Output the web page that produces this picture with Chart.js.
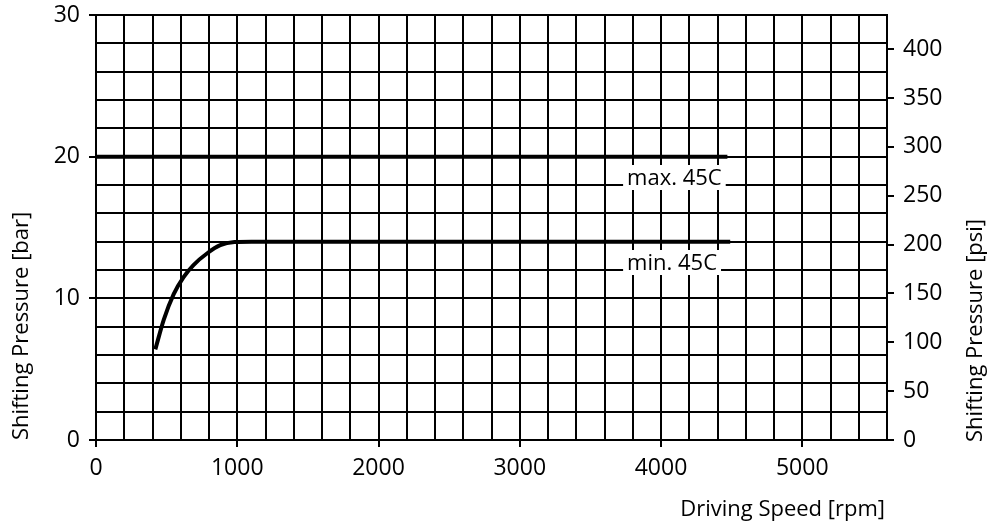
<!DOCTYPE html>
<html><head><meta charset="utf-8">
<script src="https://cdn.jsdelivr.net/npm/chart.js@4"></script>
<style>html,body{margin:0;padding:0;background:#fff;}</style>
</head><body>
<canvas id="c" width="993" height="528"></canvas>
<script>
// ---- data ----
const rpmMax = [0, 4470];
const barMax = [20, 20];
const rpmMin = [420, 480, 550, 620, 690, 790, 880, 980, 1100, 4490];
const barMin = [6.4, 8.5, 10.3, 11.5, 12.35, 13.2, 13.75, 13.97, 14, 14];
const curveLabels = ['max. 45C', 'min. 45C'];
const labelRpm = [3760, 3760];
const labelBar = [18, 12];
const rpmTickLabels = [0, 1000, 2000, 3000, 4000, 5000];
const barTickLabels = [0, 10, 20, 30];
const psiTicks = [0, 50, 100, 150, 200, 250, 300, 350, 400];
const xTitle = 'Driving Speed [rpm]';
const yTitle = 'Shifting Pressure [bar]';
const y2Title = 'Shifting Pressure [psi]';
const BAR_TO_PSI = 14.5;

const FAM = '"Open Sans", sans-serif';
const TICK_FONT = {family: FAM, size: 23};

const overlay = {
  id: 'overlay',
  afterDraw(chart) {
    const {ctx, chartArea, scales: {x, y}} = chart;
    ctx.save();
    ctx.font = '22px ' + FAM;
    ctx.textBaseline = 'alphabetic';
    ctx.textAlign = 'left';
    curveLabels.forEach((t, i) => {
      const px = x.getPixelForValue(labelRpm[i]);
      const py = y.getPixelForValue(labelBar[i]);
      const w = ctx.measureText(t).width;
      ctx.fillStyle = '#fff';
      ctx.fillRect(px - 4, py - 20, w + 8, 25);
      ctx.fillStyle = '#000';
      ctx.fillText(t, px, py);
    });
    // axis titles
    ctx.font = '22px ' + FAM;
    ctx.textBaseline = 'middle';
    ctx.save();
    ctx.translate(22, chartArea.bottom);
    ctx.rotate(-Math.PI / 2);
    ctx.textAlign = 'left';
    ctx.fillText(yTitle, 0, 0);
    ctx.restore();
    ctx.save();
    ctx.translate(976, chartArea.bottom + 2);
    ctx.rotate(-Math.PI / 2);
    ctx.textAlign = 'left';
    ctx.fillText(y2Title, 0, 0);
    ctx.restore();
    ctx.textAlign = 'right';
    ctx.textBaseline = 'alphabetic';
    ctx.fillText(xTitle, chartArea.right - 2, 516);
    ctx.restore();
  }
};

const vFit = w => a => { a.width = w; a.paddingTop = 0; a.paddingBottom = 0; };

new Chart(document.getElementById('c'), {
  type: 'line',
  data: {
    datasets: [
      {label: curveLabels[0], data: rpmMax.map((r, i) => ({x: r, y: barMax[i]})),
       borderColor: '#000', borderWidth: 4, pointRadius: 0, fill: false, yAxisID: 'y'},
      {label: curveLabels[1], data: rpmMin.map((r, i) => ({x: r, y: barMin[i]})),
       borderColor: '#000', borderWidth: 4, pointRadius: 0, fill: false,
       cubicInterpolationMode: 'monotone', borderCapStyle: 'butt', yAxisID: 'y'}
    ]
  },
  options: {
    responsive: false,
    animation: false,
    events: [],
    layout: {padding: {top: 15, right: 0, bottom: 0, left: 0}},
    plugins: {legend: {display: false}, tooltip: {enabled: false}},
    scales: {
      x: {
        type: 'linear', position: 'bottom', min: 0, max: 5600,
        afterFit: a => { a.height = 88; a.paddingLeft = 0; a.paddingRight = 0; },
        ticks: {stepSize: 200, autoSkip: false, maxRotation: 0, padding: 8, color: '#000', font: TICK_FONT,
                callback: v => rpmTickLabels.includes(v) ? String(v) : ''},
        grid: {color: '#000', lineWidth: 2, tickLength: 7, tickWidth: 2,
               tickColor: c => (c.tick && rpmTickLabels.includes(c.tick.value)) ? '#000' : 'rgba(0,0,0,0)'},
        border: {display: true, color: '#000', width: 2}
      },
      y: {
        type: 'linear', position: 'left', min: 0, max: 30,
        afterFit: vFit(96),
        ticks: {stepSize: 2, autoSkip: false, padding: 9, color: '#000', font: TICK_FONT,
                callback: v => barTickLabels.includes(v) ? String(v) : ''},
        grid: {color: '#000', lineWidth: 2, tickLength: 7, tickWidth: 2,
               tickColor: c => (c.tick && barTickLabels.includes(c.tick.value)) ? '#000' : 'rgba(0,0,0,0)'},
        border: {display: true, color: '#000', width: 2}
      },
      y2: {
        type: 'linear', position: 'right', min: 0, max: 30 * BAR_TO_PSI,
        afterFit: vFit(106),
        afterBuildTicks: a => { a.ticks = psiTicks.map(v => ({value: v})); },
        ticks: {autoSkip: false, padding: 9, color: '#000', font: TICK_FONT},
        grid: {drawOnChartArea: false, color: '#000', lineWidth: 2, tickLength: 7, tickWidth: 2, tickColor: '#000'},
        border: {display: true, color: '#000', width: 2}
      }
    }
  },
  plugins: [overlay]
});
</script>
</body></html>
